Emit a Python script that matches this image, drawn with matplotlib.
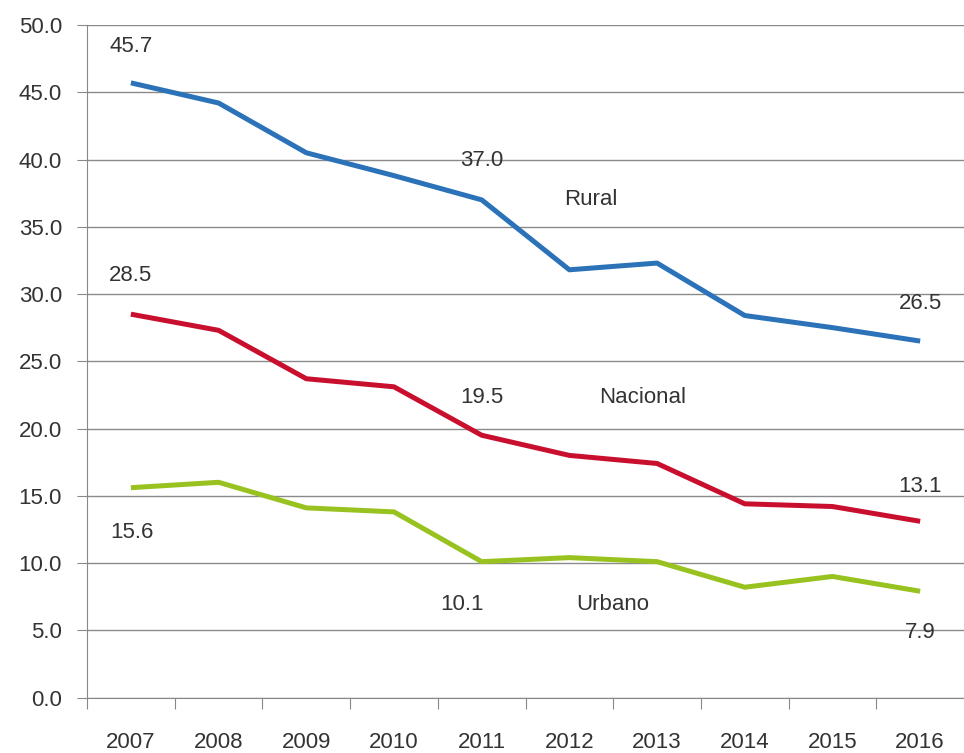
import matplotlib
matplotlib.use("Agg")
import matplotlib.pyplot as plt

years = ["2007", "2008", "2009", "2010", "2011", "2012", "2013", "2014", "2015", "2016"]
rural = [45.7, 44.2, 40.5, 38.8, 37.0, 31.8, 32.3, 28.4, 27.5, 26.5]
nacional = [28.5, 27.3, 23.7, 23.1, 19.5, 18.0, 17.4, 14.4, 14.2, 13.1]
urbano = [15.6, 16.0, 14.1, 13.8, 10.1, 10.4, 10.1, 8.2, 9.0, 7.9]
yticks = [0, 5, 10, 15, 20, 25, 30, 35, 40, 45, 50]

plt.rcParams['font.family'] = ['Liberation Sans', 'DejaVu Sans']
FS = 16

fig = plt.figure(figsize=(9.64, 7.53), dpi=100)
ax = fig.add_axes([0.0903, 0.0737, 0.9097, 0.8931])

x = list(range(len(years)))
ax.plot(x, rural, color="#2b72b9", lw=3.6, solid_joinstyle="round", solid_capstyle="butt")
ax.plot(x, nacional, color="#c8102e", lw=3.6, solid_joinstyle="round", solid_capstyle="butt")
ax.plot(x, urbano, color="#98c21f", lw=3.6, solid_joinstyle="round", solid_capstyle="butt")

ax.set_ylim(0, 50)
ax.set_xlim(-0.5, 9.5)
ax.set_yticks(yticks)
ax.set_yticklabels([f"{v:.1f}" for v in yticks], fontsize=FS, color="#333333")
ax.set_xticks([i - 0.5 for i in range(len(years))], minor=False)
ax.set_xticklabels([])
ax.set_xticks(x, minor=True)
ax.set_xticklabels(years, minor=True, fontsize=FS, color="#333333")
ax.tick_params(axis="x", which="minor", length=0, pad=25)
ax.tick_params(axis="x", which="major", length=8, color="#888888", direction="out")
ax.tick_params(axis="y", length=7, color="#888888", pad=11)
ax.yaxis.grid(True, color="#8a8a8a", lw=1.0)
ax.set_axisbelow(True)
for s in ["top", "right"]:
    ax.spines[s].set_visible(False)
ax.spines["left"].set_color("#888888")
ax.spines["bottom"].set_color("#888888")

tkw = dict(fontsize=FS, color="#333333", ha="center", va="center")
def lab(i, series, dx, dy):
    ax.annotate(f"{series[i]:.1f}", (x[i], series[i]), xytext=(dx, dy),
                textcoords="offset points", **tkw)

lab(0, rural, 0, 26)
lab(4, rural, 0, 28)
lab(9, rural, 0, 27)
lab(0, nacional, 0, 28)
lab(4, nacional, 0, 27)
lab(9, nacional, 0, 25)
lab(0, urbano, 1, -32)
lab(4, urbano, -14, -31)
lab(9, urbano, 0, -30)

ax.text(5.24, 37.0, "Rural", **tkw)
ax.text(5.83, 22.3, "Nacional", **tkw)
ax.text(5.5, 6.9, "Urbano", **tkw)

fig.savefig("out.png", dpi=100)
